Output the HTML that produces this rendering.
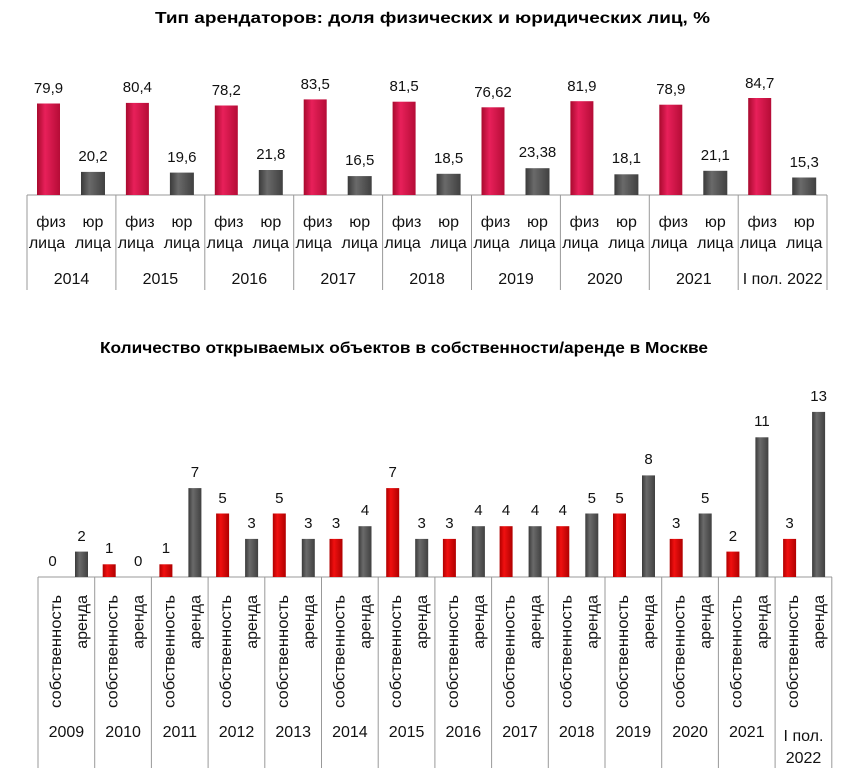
<!DOCTYPE html>
<html><head><meta charset="utf-8"><style>
html,body{margin:0;padding:0;background:#fff;}
svg{display:block;font-family:"Liberation Sans","DejaVu Sans",sans-serif;}
</style></head><body>
<svg width="866" height="775" viewBox="0 0 866 775" xmlns="http://www.w3.org/2000/svg">
<defs>
<linearGradient id="r1" x1="0" x2="1"><stop offset="0" stop-color="#a80a2e"/><stop offset="0.35" stop-color="#e8205a"/><stop offset="1" stop-color="#b50c36"/></linearGradient>
<linearGradient id="g1" x1="0" x2="1"><stop offset="0" stop-color="#3a3a3a"/><stop offset="0.35" stop-color="#6a6a6a"/><stop offset="1" stop-color="#404040"/></linearGradient>
<linearGradient id="r2" x1="0" x2="1"><stop offset="0" stop-color="#b00000"/><stop offset="0.35" stop-color="#f01010"/><stop offset="1" stop-color="#b00000"/></linearGradient>
</defs>
<text x="155" y="23" font-size="16" font-weight="bold" textLength="555" lengthAdjust="spacingAndGlyphs">Тип арендаторов: доля физических и юридических лиц, %</text>
<text x="100" y="353" font-size="16" font-weight="bold" textLength="608" lengthAdjust="spacingAndGlyphs">Количество открываемых объектов в собственности/аренде в Москве</text>

<g stroke="#999" stroke-width="1">
<line x1="27" y1="195" x2="827" y2="195"/>
<line x1="27" y1="195" x2="27" y2="290"/><line x1="115.9" y1="195" x2="115.9" y2="290"/><line x1="204.8" y1="195" x2="204.8" y2="290"/><line x1="293.7" y1="195" x2="293.7" y2="290"/><line x1="382.6" y1="195" x2="382.6" y2="290"/><line x1="471.5" y1="195" x2="471.5" y2="290"/><line x1="560.4" y1="195" x2="560.4" y2="290"/><line x1="649.3" y1="195" x2="649.3" y2="290"/><line x1="738.2" y1="195" x2="738.2" y2="290"/><line x1="827" y1="195" x2="827" y2="290"/>
</g>
<g fill="url(#r1)">
<rect x="37" y="103.5" width="23" height="91.5"/><rect x="125.9" y="102.9" width="23" height="92.1"/><rect x="214.8" y="105.5" width="23" height="89.5"/><rect x="303.7" y="99.4" width="23" height="95.6"/><rect x="392.6" y="101.7" width="23" height="93.3"/><rect x="481.5" y="107.3" width="23" height="87.7"/><rect x="570.4" y="101.2" width="23" height="93.8"/><rect x="659.3" y="104.7" width="23" height="90.3"/><rect x="748.2" y="98" width="23" height="97"/>
</g>
<g fill="url(#g1)">
<rect x="81" y="171.9" width="24" height="23.1"/><rect x="169.9" y="172.6" width="24" height="22.4"/><rect x="258.8" y="170" width="24" height="25"/><rect x="347.7" y="176.1" width="24" height="18.9"/><rect x="436.6" y="173.8" width="24" height="21.2"/><rect x="525.5" y="168.2" width="24" height="26.8"/><rect x="614.4" y="174.3" width="24" height="20.7"/><rect x="703.3" y="170.8" width="24" height="24.2"/><rect x="792.2" y="177.5" width="24" height="17.5"/>
</g>
<g font-size="15" text-anchor="middle" fill="#111">
<text x="48.5" y="93">79,9</text><text x="137.4" y="92">80,4</text><text x="226.3" y="95">78,2</text><text x="315.2" y="89">83,5</text><text x="404.1" y="91">81,5</text><text x="493" y="97">76,62</text><text x="581.9" y="91">81,9</text><text x="670.8" y="94">78,9</text><text x="759.7" y="88">84,7</text>
<text x="93" y="161">20,2</text><text x="181.9" y="162">19,6</text><text x="270.8" y="159">21,8</text><text x="359.7" y="165">16,5</text><text x="448.6" y="163">18,5</text><text x="537.5" y="157">23,38</text><text x="626.4" y="163">18,1</text><text x="715.3" y="160">21,1</text><text x="804.2" y="167">15,3</text>
</g>
<g font-size="16" text-anchor="middle" fill="#111">
<text x="51" y="227">физ</text><text x="93" y="227">юр</text><text x="47" y="248">лица</text><text x="93" y="248">лица</text>
<text x="139.9" y="227">физ</text><text x="181.9" y="227">юр</text><text x="135.9" y="248">лица</text><text x="181.9" y="248">лица</text>
<text x="228.8" y="227">физ</text><text x="270.8" y="227">юр</text><text x="224.8" y="248">лица</text><text x="270.8" y="248">лица</text>
<text x="317.7" y="227">физ</text><text x="359.7" y="227">юр</text><text x="313.7" y="248">лица</text><text x="359.7" y="248">лица</text>
<text x="406.6" y="227">физ</text><text x="448.6" y="227">юр</text><text x="402.6" y="248">лица</text><text x="448.6" y="248">лица</text>
<text x="495.5" y="227">физ</text><text x="537.5" y="227">юр</text><text x="491.5" y="248">лица</text><text x="537.5" y="248">лица</text>
<text x="584.4" y="227">физ</text><text x="626.4" y="227">юр</text><text x="580.4" y="248">лица</text><text x="626.4" y="248">лица</text>
<text x="673.3" y="227">физ</text><text x="715.3" y="227">юр</text><text x="669.3" y="248">лица</text><text x="715.3" y="248">лица</text>
<text x="762.2" y="227">физ</text><text x="804.2" y="227">юр</text><text x="758.2" y="248">лица</text><text x="804.2" y="248">лица</text>
<text x="71.5" y="284">2014</text><text x="160.4" y="284">2015</text><text x="249.3" y="284">2016</text><text x="338.2" y="284">2017</text><text x="427.1" y="284">2018</text><text x="516" y="284">2019</text><text x="604.9" y="284">2020</text><text x="693.8" y="284">2021</text><text x="782.7" y="284">I пол. 2022</text>
</g>

<g stroke="#999" stroke-width="1">
<line x1="38" y1="577" x2="832" y2="577"/>
<line x1="38" y1="577" x2="38" y2="768"/><line x1="94.7" y1="577" x2="94.7" y2="768"/><line x1="151.4" y1="577" x2="151.4" y2="768"/><line x1="208.1" y1="577" x2="208.1" y2="768"/><line x1="264.8" y1="577" x2="264.8" y2="768"/><line x1="321.5" y1="577" x2="321.5" y2="768"/><line x1="378.2" y1="577" x2="378.2" y2="768"/><line x1="434.9" y1="577" x2="434.9" y2="768"/><line x1="491.6" y1="577" x2="491.6" y2="768"/><line x1="548.3" y1="577" x2="548.3" y2="768"/><line x1="605" y1="577" x2="605" y2="768"/><line x1="661.7" y1="577" x2="661.7" y2="768"/><line x1="718.4" y1="577" x2="718.4" y2="768"/><line x1="775.1" y1="577" x2="775.1" y2="768"/><line x1="831.8" y1="577" x2="831.8" y2="768"/>
</g>
<g fill="url(#r2)">
<rect x="102.7" y="564.3" width="13" height="12.7"/><rect x="159.4" y="564.3" width="13" height="12.7"/><rect x="216.1" y="513.5" width="13" height="63.5"/><rect x="272.8" y="513.5" width="13" height="63.5"/><rect x="329.5" y="538.9" width="13" height="38.1"/><rect x="386.2" y="488.1" width="13" height="88.9"/><rect x="442.9" y="538.9" width="13" height="38.1"/><rect x="499.6" y="526.2" width="13" height="50.8"/><rect x="556.3" y="526.2" width="13" height="50.8"/><rect x="613" y="513.5" width="13" height="63.5"/><rect x="669.7" y="538.9" width="13" height="38.1"/><rect x="726.4" y="551.6" width="13" height="25.4"/><rect x="783.1" y="538.9" width="13" height="38.1"/>
</g>
<g fill="url(#g1)">
<rect x="75" y="551.6" width="13" height="25.4"/><rect x="188.4" y="488.1" width="13" height="88.9"/><rect x="245.1" y="538.9" width="13" height="38.1"/><rect x="301.8" y="538.9" width="13" height="38.1"/><rect x="358.5" y="526.2" width="13" height="50.8"/><rect x="415.2" y="538.9" width="13" height="38.1"/><rect x="471.9" y="526.2" width="13" height="50.8"/><rect x="528.6" y="526.2" width="13" height="50.8"/><rect x="585.3" y="513.5" width="13" height="63.5"/><rect x="642" y="475.4" width="13" height="101.6"/><rect x="698.7" y="513.5" width="13" height="63.5"/><rect x="755.4" y="437.3" width="13" height="139.7"/><rect x="812.1" y="411.9" width="13" height="165.1"/>
</g>
<g font-size="15" text-anchor="middle" fill="#111">
<text x="52.5" y="566">0</text><text x="81.5" y="541">2</text>
<text x="109.2" y="553">1</text><text x="138.2" y="566">0</text>
<text x="165.9" y="553">1</text><text x="194.9" y="477">7</text>
<text x="222.6" y="503">5</text><text x="251.6" y="528">3</text>
<text x="279.3" y="503">5</text><text x="308.3" y="528">3</text>
<text x="336" y="528">3</text><text x="365" y="515">4</text>
<text x="392.7" y="477">7</text><text x="421.7" y="528">3</text>
<text x="449.4" y="528">3</text><text x="478.4" y="515">4</text>
<text x="506.1" y="515">4</text><text x="535.1" y="515">4</text>
<text x="562.8" y="515">4</text><text x="591.8" y="503">5</text>
<text x="619.5" y="503">5</text><text x="648.5" y="464">8</text>
<text x="676.2" y="528">3</text><text x="705.2" y="503">5</text>
<text x="732.9" y="541">2</text><text x="761.9" y="426">11</text>
<text x="789.6" y="528">3</text><text x="818.6" y="401">13</text>
</g>
<g font-size="16" text-anchor="end" fill="#111">
<text transform="translate(61,595) rotate(-90)" textLength="113" lengthAdjust="spacingAndGlyphs">собственность</text><text transform="translate(87,595) rotate(-90)">аренда</text>
<text transform="translate(117.7,595) rotate(-90)" textLength="113" lengthAdjust="spacingAndGlyphs">собственность</text><text transform="translate(143.7,595) rotate(-90)">аренда</text>
<text transform="translate(174.4,595) rotate(-90)" textLength="113" lengthAdjust="spacingAndGlyphs">собственность</text><text transform="translate(200.4,595) rotate(-90)">аренда</text>
<text transform="translate(231.1,595) rotate(-90)" textLength="113" lengthAdjust="spacingAndGlyphs">собственность</text><text transform="translate(257.1,595) rotate(-90)">аренда</text>
<text transform="translate(287.8,595) rotate(-90)" textLength="113" lengthAdjust="spacingAndGlyphs">собственность</text><text transform="translate(313.8,595) rotate(-90)">аренда</text>
<text transform="translate(344.5,595) rotate(-90)" textLength="113" lengthAdjust="spacingAndGlyphs">собственность</text><text transform="translate(370.5,595) rotate(-90)">аренда</text>
<text transform="translate(401.2,595) rotate(-90)" textLength="113" lengthAdjust="spacingAndGlyphs">собственность</text><text transform="translate(427.2,595) rotate(-90)">аренда</text>
<text transform="translate(457.9,595) rotate(-90)" textLength="113" lengthAdjust="spacingAndGlyphs">собственность</text><text transform="translate(483.9,595) rotate(-90)">аренда</text>
<text transform="translate(514.6,595) rotate(-90)" textLength="113" lengthAdjust="spacingAndGlyphs">собственность</text><text transform="translate(540.6,595) rotate(-90)">аренда</text>
<text transform="translate(571.3,595) rotate(-90)" textLength="113" lengthAdjust="spacingAndGlyphs">собственность</text><text transform="translate(597.3,595) rotate(-90)">аренда</text>
<text transform="translate(628,595) rotate(-90)" textLength="113" lengthAdjust="spacingAndGlyphs">собственность</text><text transform="translate(654,595) rotate(-90)">аренда</text>
<text transform="translate(684.7,595) rotate(-90)" textLength="113" lengthAdjust="spacingAndGlyphs">собственность</text><text transform="translate(710.7,595) rotate(-90)">аренда</text>
<text transform="translate(741.4,595) rotate(-90)" textLength="113" lengthAdjust="spacingAndGlyphs">собственность</text><text transform="translate(767.4,595) rotate(-90)">аренда</text>
<text transform="translate(798.1,595) rotate(-90)" textLength="113" lengthAdjust="spacingAndGlyphs">собственность</text><text transform="translate(824.1,595) rotate(-90)">аренда</text>
</g>
<g font-size="16" text-anchor="middle" fill="#111">
<text x="66.4" y="737">2009</text><text x="123.1" y="737">2010</text><text x="179.8" y="737">2011</text><text x="236.5" y="737">2012</text><text x="293.2" y="737">2013</text><text x="349.9" y="737">2014</text><text x="406.6" y="737">2015</text><text x="463.3" y="737">2016</text><text x="520" y="737">2017</text><text x="576.7" y="737">2018</text><text x="633.4" y="737">2019</text><text x="690.1" y="737">2020</text><text x="746.8" y="737">2021</text>
<text x="803.5" y="741">I пол.</text><text x="803.5" y="763">2022</text>
</g>
</svg>
</body></html>
